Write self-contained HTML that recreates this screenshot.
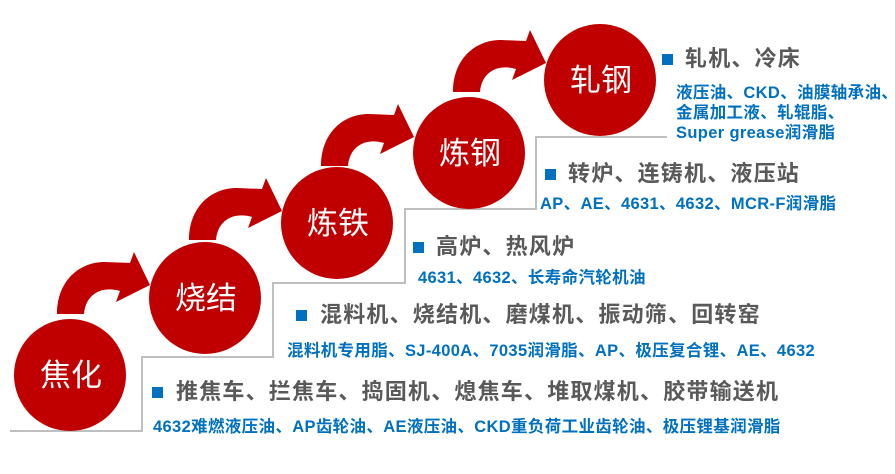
<!DOCTYPE html>
<html><head><meta charset="utf-8"><style>
body{margin:0;width:895px;height:474px;background:#fff;position:relative;overflow:hidden;font-family:"Liberation Sans","Noto Sans CJK SC",sans-serif}
.t{position:absolute;white-space:nowrap;line-height:1}
.h{font-size:22px;font-weight:bold;color:#595959;letter-spacing:1.2px}
.b{font-size:16.5px;font-weight:bold;color:#0070c0;letter-spacing:0.35px}
.sq{position:absolute;width:11px;height:11px;background:#0070c0}
.c{font-size:31px;color:#fff;font-family:"Noto Sans CJK SC",sans-serif}
</style></head><body>
<svg width="895" height="474" style="position:absolute;left:0;top:0">
<polyline points="10,431 142,431 142,357 273,357 273,283 405,283 405,209 536,209 536,137 667,137" fill="none" stroke="#bfbfbf" stroke-width="2"/>
<g fill="#c00000">
<g id="a">
<path d="M57,314 C57,282 78,262 105,262 L130,263 L134,252 L150,285 L116,302 L120,291 C104,286 86,292 84,314 Z"/>
</g>
<use href="#a" transform="translate(132,-74)"/>
<use href="#a" transform="translate(264,-148)"/>
<use href="#a" transform="translate(396,-222)"/>
<circle cx="70" cy="375" r="56"/>
<circle cx="205" cy="298" r="56"/>
<circle cx="337" cy="223" r="56"/>
<circle cx="469" cy="153" r="56"/>
<circle cx="600" cy="80" r="56"/>
</g>
</svg>
<div class="t c" style="left:40px;top:357px">焦化</div>
<div class="t c" style="left:175px;top:280px">烧结</div>
<div class="t c" style="left:307px;top:205px">炼铁</div>
<div class="t c" style="left:439px;top:135px">炼钢</div>
<div class="t c" style="left:570px;top:62px">轧钢</div>

<div class="sq" style="left:662px;top:54px"></div>
<div class="t h" style="left:685px;top:48px">轧机、冷床</div>
<div class="t b" style="left:676px;top:85px">液压油、CKD、油膜轴承油、</div>
<div class="t b" style="left:676px;top:105px">金属加工液、轧辊脂、</div>
<div class="t b" style="left:676px;top:125px">Super grease润滑脂</div>

<div class="sq" style="left:545px;top:169px"></div>
<div class="t h" style="left:568px;top:163px">转炉、连铸机、液压站</div>
<div class="t b" style="left:540px;top:196px">AP、AE、4631、4632、MCR-F润滑脂</div>

<div class="sq" style="left:413px;top:242px"></div>
<div class="t h" style="left:436px;top:236px">高炉、热风炉</div>
<div class="t b" style="left:418px;top:270px">4631、4632、长寿命汽轮机油</div>

<div class="sq" style="left:296px;top:310px"></div>
<div class="t h" style="left:320px;top:304px">混料机、烧结机、磨煤机、振动筛、回转窑</div>
<div class="t b" style="left:287px;top:343px">混料机专用脂、SJ-400A、7035润滑脂、AP、极压复合锂、AE、4632</div>

<div class="sq" style="left:152px;top:387px"></div>
<div class="t h" style="left:176px;top:381px">推焦车、拦焦车、捣固机、熄焦车、堆取煤机、胶带输送机</div>
<div class="t b" style="left:153px;top:419px">4632难燃液压油、AP齿轮油、AE液压油、CKD重负荷工业齿轮油、极压锂基润滑脂</div>
</body></html>
